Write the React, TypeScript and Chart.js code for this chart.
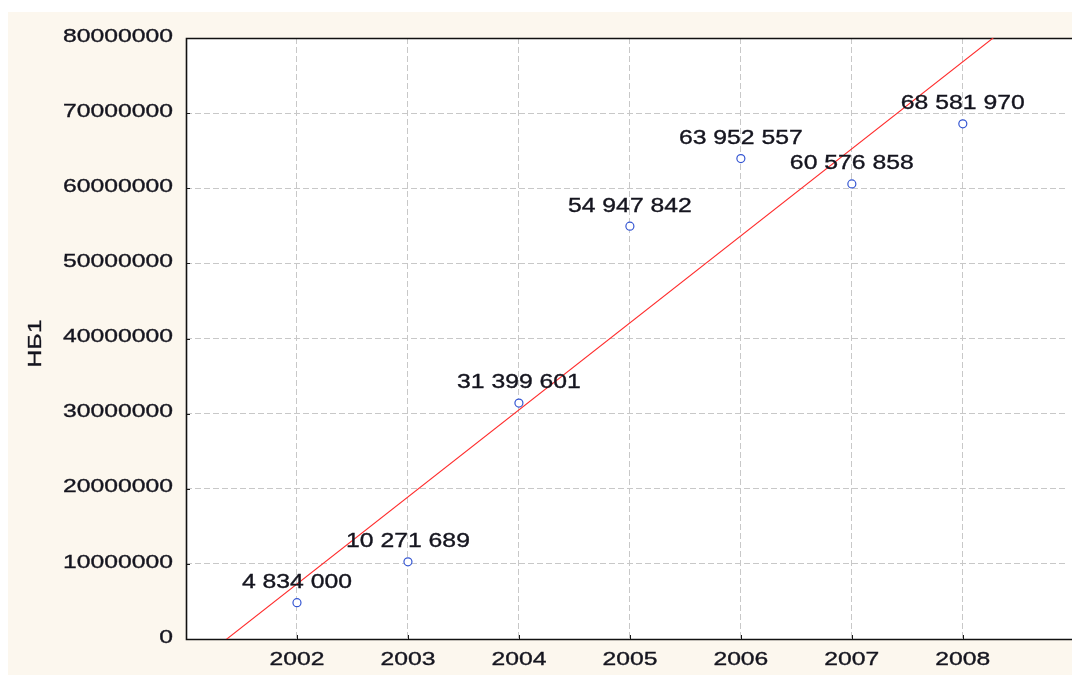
import React, { useEffect, useRef } from "react";
import { Chart, registerables } from "chart.js";

Chart.register(...registerables);

const years = [2002, 2003, 2004, 2005, 2006, 2007, 2008];
const values = [4834000, 10271689, 31399601, 54947842, 63952557, 60576858, 68581970];
const valueLabels = [
  "4 834 000",
  "10 271 689",
  "31 399 601",
  "54 947 842",
  "63 952 557",
  "60 576 858",
  "68 581 970",
];
const yTicks = [0, 10000000, 20000000, 30000000, 40000000, 50000000, 60000000, 70000000, 80000000];
const yTickLabels = ["0", "10000000", "20000000", "30000000", "40000000", "50000000", "60000000", "70000000", "80000000"];
const xTickLabels = ["2002", "2003", "2004", "2005", "2006", "2007", "2008"];
const yAxisTitle = "НБ1";

const X_MIN = 2001;
const X_MAX = 2008.937;

// least-squares trend line fitted to the data
function trendLine() {
  const n = years.length;
  const mx = years.reduce((a, b) => a + b, 0) / n;
  const my = values.reduce((a, b) => a + b, 0) / n;
  let sxy = 0;
  let sxx = 0;
  for (let i = 0; i < n; i++) {
    sxy += (years[i] - mx) * (values[i] - my);
    sxx += (years[i] - mx) * (years[i] - mx);
  }
  const b = sxy / sxx;
  const a = my - b * mx;
  return [
    { x: X_MIN, y: a + b * X_MIN },
    { x: 2009.5, y: a + b * 2009.5 },
  ];
}

const FONT = '19px "Liberation Sans", Arial, sans-serif';
const LABEL_FONT = '19.5px "Liberation Sans", Arial, sans-serif';
const STRETCH = 1.3;
const TEXT_COLOR = "#15151f";

function drawWideText(ctx: CanvasRenderingContext2D, text: string, x: number, y: number, align: CanvasTextAlign, rotate = 0, font = FONT, stretch = STRETCH) {
  ctx.save();
  ctx.translate(x, y);
  if (rotate) ctx.rotate(rotate);
  ctx.scale(stretch, 1);
  ctx.font = font;
  ctx.fillStyle = TEXT_COLOR;
  ctx.strokeStyle = TEXT_COLOR;
  ctx.lineWidth = 0.35;
  ctx.textAlign = align;
  ctx.textBaseline = "middle";
  ctx.fillText(text, 0, 0);
  ctx.strokeText(text, 0, 0);
  ctx.restore();
}

const decorPlugin = {
  id: "decor",
  beforeDraw(chart: any) {
    const { ctx, chartArea } = chart;
    const { left, top, right, bottom } = chartArea;
    ctx.save();
    ctx.fillStyle = "#ffffff";
    ctx.fillRect(left, top, right - left + 10, bottom - top);
    ctx.restore();
  },
  beforeDatasetsDraw(chart: any) {
    const { ctx, chartArea, scales } = chart;
    const { left, top, right, bottom } = chartArea;
    ctx.save();
    ctx.strokeStyle = "#1a1a1a";
    ctx.lineWidth = 1;
    ctx.beginPath();
    yTicks.forEach((v) => {
      const y = Math.round(scales.y.getPixelForValue(v)) + 0.5;
      ctx.moveTo(left, y);
      ctx.lineTo(left + 4, y);
    });
    years.forEach((v) => {
      const x = Math.round(scales.x.getPixelForValue(v)) + 0.5;
      ctx.moveTo(x, bottom);
      ctx.lineTo(x, bottom - 4);
    });
    ctx.stroke();
    ctx.lineWidth = 1.6;
    ctx.strokeStyle = "#111111";
    ctx.beginPath();
    ctx.moveTo(right + 10, Math.round(top) + 0.5);
    ctx.lineTo(Math.round(left) + 0.5, Math.round(top) + 0.5);
    ctx.lineTo(Math.round(left) + 0.5, Math.round(bottom) + 0.5);
    ctx.lineTo(right + 10, Math.round(bottom) + 0.5);
    ctx.stroke();
    ctx.restore();
  },
  afterDraw(chart: any) {
    const { ctx, chartArea, scales } = chart;
    const { left, top, bottom } = chartArea;
    yTicks.forEach((v, i) => {
      const y = scales.y.getPixelForValue(v) - 1.5;
      drawWideText(ctx, yTickLabels[i], left - 13, y, "right");
    });
    years.forEach((v, i) => {
      const x = scales.x.getPixelForValue(v);
      drawWideText(ctx, xTickLabels[i], x, bottom + 21, "center");
    });
    drawWideText(ctx, yAxisTitle, 28, (top + bottom) / 2 + 5, "center", -Math.PI / 2);
    years.forEach((v, i) => {
      const x = scales.x.getPixelForValue(v);
      const y = scales.y.getPixelForValue(values[i]);
      drawWideText(ctx, valueLabels[i], x, y - 20, "center", 0, LABEL_FONT, 1.27);
    });
  },
};

export default function App() {
  const ref = useRef<HTMLCanvasElement | null>(null);

  useEffect(() => {
    if (!ref.current) return;
    const chart = new Chart(ref.current, {
      type: "scatter",
      data: {
        datasets: [
          {
            label: "НБ1",
            data: years.map((y, i) => ({ x: y, y: values[i] })),
            pointRadius: 4,
            pointBorderWidth: 1.2,
            pointBorderColor: "#3556d2",
            pointBackgroundColor: "#ffffff",
            showLine: false,
          },
          {
            label: "trend",
            data: trendLine(),
            showLine: true,
            borderColor: "#ff2a2a",
            borderWidth: 1.1,
            pointRadius: 0,
            clip: 0,
          },
        ],
      },
      options: {
        responsive: false,
        animation: false,
        devicePixelRatio: 1,
        layout: { padding: { left: 178, top: 26, bottom: 36, right: 0 } },
        plugins: {
          legend: { display: false },
          tooltip: { enabled: false },
          title: { display: false },
        },
        scales: {
          x: {
            type: "linear",
            min: X_MIN,
            max: X_MAX,
            afterBuildTicks: (scale: any) => {
              scale.ticks = years.map((v) => ({ value: v }));
            },
            ticks: { display: false },
            grid: { color: "#c8c8c8", lineWidth: 1, drawTicks: false },
            border: { display: false, dash: [6, 3] },
          },
          y: {
            type: "linear",
            min: 0,
            max: 80000000,
            afterBuildTicks: (scale: any) => {
              scale.ticks = yTicks.map((v) => ({ value: v }));
            },
            ticks: { display: false },
            grid: { color: "#c8c8c8", lineWidth: 1, drawTicks: false },
            border: { display: false, dash: [6, 3] },
          },
        },
      },
      plugins: [decorPlugin],
    });
    return () => chart.destroy();
  }, []);

  return (
    <div style={{ position: "fixed", left: 8, top: 12, width: 1064, height: 663, background: "#fcf7ee", overflow: "hidden" }}>
      <canvas ref={ref} width={1064} height={663} style={{ display: "block", width: 1064, height: 663 }} />
    </div>
  );
}
